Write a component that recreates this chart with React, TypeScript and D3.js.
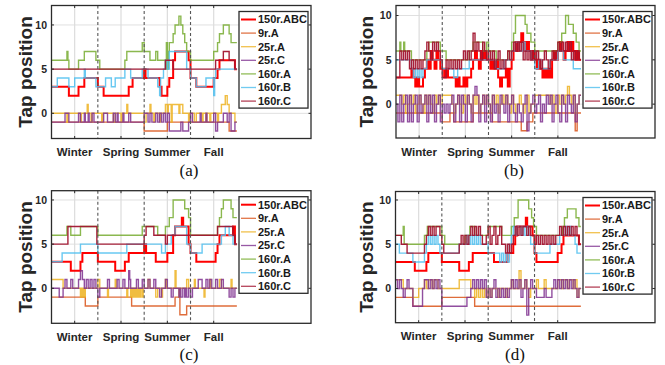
import React from 'react';
import * as d3 from 'd3';

// ---- shared labels ----
const seasons = ['Winter', 'Spring', 'Summer', 'Fall'];
const seasonTicks = [12, 36, 60, 84];      // hour at the centre of each season
const seasonBounds = [24, 48, 72];         // dashed separators
const yTicks = [0, 5, 10];
const seriesNames = ['150r.ABC', '9r.A', '25r.A', '25r.C', '160r.A', '160r.B', '160r.C'];
const seriesColors = ['#ff0000', '#D95319', '#EDB120', '#7E2F8E', '#77AC30', '#4DBEEE', '#A2142F'];
const seriesOpacity = [1, 0.85, 0.85, 0.85, 0.85, 0.85, 0.95];
const DATA_END = 96;
const X_MAX = 134.4;

// Each series is either [hour, tap] change points or one tap value per hour.
type Series = number[] | number[][];

// ---- panel (a) ----
const a150r = [[0,3],[9,2],[14,3],[17,4],[24,3],[27,2],[40,3],[42,4],[48,5],[48.7,4],[56,3],[57,2],[60,3],[61,4],[63,6],[64,7],[71,6],[72,4],[75,3],[84,4],[86,5],[87,6],[95,5]];
const a9rA = [[0,-1],[48,-2],[60,-1],[92,-2]];
const a25rA = [[0,0],[8,-1],[8.5,0],[15,-1],[15.5,0],[18.5,1],[19,0],[20.5,-1],[21,0],[26,-1],[26.5,0],[32,-1],[33,0],[36,-1],[36.5,0],[39,1],[39.5,0],[48,-1],[49,0],[51,1],[51.5,0],[53,-1],[53.5,0],[56,-1],[56.5,0],[59,1],[60,0],[60.5,1],[62,-1],[62.5,1],[66,0],[66.5,1],[68,0],[71,-1],[71.5,0],[74,-1],[75,0],[78,-1],[78.5,0],[80,-1],[80.5,0],[82,-1],[82.5,0],[86,-1],[86.5,0],[88,1],[90,2],[91,1],[92,0],[95,-1]];
const a25rC = [[0,-1],[7,0],[9,-1],[14,0],[15,-1],[17,0],[17.5,-1],[19,0],[19.5,-1],[21,0],[22,-1],[27,0],[29,-1],[32,0],[33,-1],[34,0],[34.5,-1],[37,0],[37.5,-1],[40,0],[41,-1],[48,0],[50,-1],[51,0],[52,-1],[54,0],[55,-1],[56,0],[57,-1],[58,0],[59,-1],[60,0],[61,-2],[67,-1],[68,-2],[71,-1],[72,0],[73,-1],[77,0],[77.5,-1],[80,0],[80.5,-1],[84,0],[85,-2],[86,-1],[89,0],[91,-1],[92,0],[93,-2],[95,-1]];
const a160rA = [[0,6],[8,7],[8.5,6],[9,5],[14,6],[17,7],[23,6],[25,5],[38,6],[39,7],[47,8],[48,7],[51,6],[54,7],[55,6],[59,5],[59.5,8],[60,5],[60.5,7],[61,8],[63,9],[64,10],[66,11],[67,10],[68,9],[69,8],[70,7],[72,6],[84,7],[86,8],[87,9],[89,10],[92,9],[93,8]];
const a160rB = [[0,3],[3,4],[9,3],[12,4],[17,5],[17.5,4],[23,3],[28,4],[31,3],[33,4],[38,5],[41,4],[47,5],[50,4],[55,3],[56,2],[56.5,4],[58,5],[59,6],[60,5],[61,7],[70,5],[72,4],[75,3],[80,4],[84,2],[84.5,4],[85,5]];
const a160rC = [[0,5],[59,6],[63,5],[85,6],[89,7],[92,6],[95,5]];

// ---- panel (b) ----
const b150r = [3,3,3,3,3,3,3,3, 4,3,2,3,2,2,3,4, 5,4,6,5,4,6,5,4, 4,3,4,3,3,3,3,2, 3,2,2,3,2,3,3,4, 5,6,5,4,6,5,6,5, 5,4,5,4,5,3,2,3, 3,4,2,4,5,6,7,6, 7,8,7,6,7,6,5,6, 5,4,5,4,3,4,3,4, 3,5,6,5,6,7,6,5, 6,7,6,7,6,5,6,5];
const b9rA = [[0,-1],[24,-2],[28,-1],[30,-2],[40,-1],[50,-2],[65,-3],[68,-2],[71,-1],[93,-3],[94,-1]];
const b25rA = [1,1,1,0,1,-1,0,1, 0,1,-1,0,1,0,-1,1, 0,1,0,-1,1,0,1,0, 1,1,1,1,1,0,-1,0, 1,0,-1,1,0,1,0,-1, 1,0,1,-1,0,1,0,1, 0,-1,1,0,1,-1,0,1, 0,1,0,-1,1,0,-1,0, 1,0,-1,0,1,-1,0,0, 1,1,1,1,1,1,1,1, 0,1,0,-1,1,0,1,0, 1,2,1,0,1,-1,0,1];
const b25rC = [0,-2,1,-2,0,1,-2,1, -2,0,1,-2,1,-1,0,1, -2,1,-1,1,-2,0,1,-2, 0,-1,0,-1,0,1,-2,0, 1,-2,1,0,-2,1,0,-2, 1,2,1,-2,0,1,-2,1, 0,-2,1,-1,0,-2,1,0, -1,1,-2,0,1,-1,-2,0, -1,-2,0,1,-3,-1,0,1, -1,0,1,-2,0,-1,1,0, 1,-2,0,1,-1,-2,1,0, -2,1,0,-1,1,-2,0,1];
const b160rA = [[0,6],[2,7],[2.5,6],[4,7],[4.5,6],[8,5],[16,6],[17,7],[23,6],[26,5],[38,6],[40,7],[45,6],[47,7],[48,6],[52,5],[58,6],[60,7],[61,8],[62,10],[67,9],[68,8],[70,7],[72,6],[84,7],[86,8],[88,10],[89.5,9],[92,8],[93.5,7],[95,6]];
const b160rB = [[0,5],[8,4],[9,3],[10,4],[11,3],[12,4],[13,3],[14,4],[16,5],[24,4],[30,3],[32,4],[38,5],[52,4],[56,5],[60,6],[62,7],[64,6],[66,7],[67,6],[70,5],[72,4],[74,5],[76,4],[80,5],[84,6],[87,5],[92,4]];
const b160rC = [3,3,6,5,6,5,6,4, 5,4,5,4,5,4,5,6, 7,6,5,7,6,7,6,5, 3,3,5,4,5,4,5,4, 5,4,5,6,5,6,5,6, 8,6,7,6,5,7,6,5, 6,5,6,4,5,6,4,5, 4,5,6,5,6,7,6,7, 6,7,5,6,5,6,5,6, 5,6,5,4,5,6,5,4, 5,6,5,6,7,6,7,6, 7,6,7,5,6,5,6,5];

// ---- panel (c) ----
const c150r = [[0,3],[10,2],[15,3],[16,4],[24,3],[33,2],[38,3],[40,4],[48,5],[49,4],[54,3],[60,4],[63,6],[64,7],[67.5,8],[68.2,7],[71,5],[72,4],[75,3],[85,4],[86,5],[87,6],[94,7],[95,5]];
const c9rA = [[0,-1],[17.5,-2],[24,-1],[41.5,-2],[64,-1],[66.5,-3],[70,-2]];
const c25rA = [[0,1],[6,0],[15,-1],[15.5,0],[16,-1],[16.5,0],[17,-1],[17.5,0],[24,1],[25,0],[29,-1],[29.5,0],[33,1],[33.5,0],[39,-1],[39.5,0],[41,-1],[41.4,0],[41.8,-1],[42.2,0],[42.6,-1],[43,0],[43.4,-1],[43.8,0],[44.2,-1],[44.6,0],[45,-1],[45.4,0],[45.8,-1],[46.2,0],[47,-1],[47.5,0],[50,1],[51,0],[54,-1],[55,0],[57,-1],[57.5,0],[59,1],[59.5,0],[64,2],[64.5,0],[66,-1],[66.5,0],[70,1],[71,0],[74,1],[74.5,0],[79,-1],[79.5,0],[82,1],[82.5,0],[87,1],[88,0],[93,1],[93.5,0]];
const c25rC = [[0,0],[4,-1],[6,0],[7,1],[8,0],[10,1],[11,0],[14,1],[15,2],[16,1],[17,0],[18,1],[19,0],[20,1],[21,0],[22,1],[23,0],[24,-1],[25,0],[29,1],[30,0],[34,1],[35,0],[37,1],[38,0],[40,2],[40.5,1],[41,0],[44,1],[45,0],[47,1],[48,0],[50,1],[51,0],[53,1],[54,0],[56,-1],[57,0],[59,1],[60,0],[62,-1],[63,0],[66,-1],[66.5,0],[67,-1],[68,0],[69,-1],[69.5,0],[70,-1],[71,0],[72,-1],[73,0],[76,1],[78,0],[80,1],[81,0],[82,1],[83,0],[85,1],[86,0],[88,1],[89,0],[92,-1],[93,0],[94,-1],[95,0]];
const c160rA = [[0,6],[8,7],[10,6],[15,7],[24,6],[47,7],[55,6],[59,7],[61,8],[63,10],[69,9],[71,8],[72,6],[86,7],[87,8],[88,9],[89,10],[93,9],[94,8]];
const c160rB = [[0,3],[5.5,4],[15,5],[24,4],[39,5],[57,4],[59,5],[62,6],[64,7],[70,5],[72,4],[78,5],[88,6],[90,7],[92,6],[94,5]];
const c160rC = [[0,5],[8.5,7],[23.5,5],[48,6],[49,7],[53,6],[59,5],[60,6],[72,6],[86,7],[94,6],[95,5]];

// ---- panel (d) ----
const d150r = [[0,3],[10,2],[16,3],[17,4],[24,3],[33,2],[38,3],[40,4],[51,3],[58,4],[61,5],[62,6],[63,7],[67.5,8],[68.2,7],[71,6],[72,4],[73,3],[84,4],[86,5],[87,6],[95,5]];
const d9rA = [[0,-1],[9,-2],[24,-1],[41,-2]];
const d25rA = [1,1,1,1,0,0,0,0, 0,-1,-1,-1,0,0,0,1, 0,1,1,0,1,1,0,0, 0,0,0,0,0,0,0,0, 0,1,1,1,1,1,1,0, 0,-1,0,-1,0,-1,0,-1, 0,-1,0,0,0,-1,0,0, 0,-1,0,0,1,0,0,0, 2,0,0,1,0,-1,0,0, 0,1,0,0,0,1,0,0, 0,0,0,0,1,1,0,1, 1,0,1,1,0,1,-1,0];
const d25rC = [1,0,1,0,-1,0,1,0, 0,-2,-2,-2,-2,-2,0,1, 1,0,1,0,1,0,1,0, -2,-2,-2,-2,-2,-2,-2,-2, -2,-2,-2,-2,-2,-1,-1,0, 1,0,1,0,1,0,1,-1, 0,-1,0,1,-1,0,-1,0, -1,0,-1,0,1,0,1,0, 1,-1,0,1,-3,0,1,0, 0,-1,-1,-1,-1,0,-1,-1, -1,0,1,0,1,0,1,0, 1,0,1,0,1,0,-1,0];
const d160rA = [[0,6],[4,7],[4.5,5],[15,6],[16.5,7],[24,6],[25.5,5],[36,6],[38.5,7],[41,6],[48,7],[55,6],[60,7],[61.5,8],[63.5,10],[69,9],[70.5,8],[71.5,7],[73,6],[86.5,7],[87.5,8],[89,9],[93.5,8],[95,7]];
const d160rB = [5,5,4,4,4,4,4,4, 4,3,3,3,3,3,3,4, 5,6,5,6,5,6,5,4, 4,4,4,4,4,4,4,4, 4,5,5,5,5,6,5,6, 5,6,5,6,5,5,5,5, 4,4,4,4,4,4,3,4, 3,4,3,5,6,7,6,7, 7,6,7,6,7,6,5,5, 4,4,4,4,4,4,4,4, 5,5,5,5,5,6,6,6, 7,6,7,6,6,5,4,4];
const d160rC = [6,6,6,5,5,5,4,4, 4,4,4,4,4,4,4,5, 6,7,6,7,6,7,7,6, 5,4,4,4,4,4,4,4, 4,5,6,5,6,5,6,7, 6,7,6,7,6,5,5,6, 7,5,6,7,5,6,7,5, 5,4,5,4,5,6,7,6, 7,6,7,7,6,7,6,6, 5,6,5,6,5,6,5,6, 5,6,5,6,6,7,6,7, 6,7,6,7,6,7,6,5];

interface PanelSpec {
  left: number; top: number; right: number; bottom: number;
  yDomain: [number, number];
  labelX: number;
  caption: string; captionX: number; captionY: number;
  series: Series[];
}

const panels: PanelSpec[] = [
  { left: 51.5, top: 5.5, right: 311, bottom: 138.5, yDomain: [-2.85, 12.2], labelX: 25,
    caption: '(a)', captionX: 189, captionY: 176,
    series: [a150r, a9rA, a25rA, a25rC, a160rA, a160rB, a160rC] },
  { left: 396, top: 5.5, right: 655, bottom: 138, yDomain: [-3.82, 11.13], labelX: 366,
    caption: '(b)', captionX: 514, captionY: 176,
    series: [b150r, b9rA, b25rA, b25rC, b160rA, b160rB, b160rC] },
  { left: 51.5, top: 190.7, right: 311, bottom: 323.3, yDomain: [-3.96, 11.05], labelX: 25,
    caption: '(c)', captionX: 189, captionY: 360,
    series: [c150r, c9rA, c25rA, c25rC, c160rA, c160rB, c160rC] },
  { left: 395.5, top: 191.5, right: 655, bottom: 322.7, yDomain: [-3.86, 10.96], labelX: 366,
    caption: '(d)', captionX: 515, captionY: 360,
    series: [d150r, d9rA, d25rA, d25rC, d160rA, d160rB, d160rC] },
];

const toPoints = (s: Series): [number, number][] => {
  const pts: [number, number][] = typeof s[0] === 'number'
    ? (s as number[]).map((v, i) => [i, v] as [number, number])
    : (s as number[][]).map(p => [p[0], p[1]] as [number, number]);
  pts.push([DATA_END, pts[pts.length - 1][1]]);
  return pts;
};

const FONT = '"Liberation Sans", Arial, sans-serif';

const Panel: React.FC<{ spec: PanelSpec; idx: number }> = ({ spec, idx }) => {
  const { left, top, right, bottom } = spec;
  const x = d3.scaleLinear().domain([0, X_MAX]).range([left, right]);
  const y = d3.scaleLinear().domain(spec.yDomain).range([bottom, top]);
  const line = d3.line<[number, number]>()
    .x(d => x(d[0]))
    .y(d => y(d[1]))
    .curve(d3.curveStepAfter);
  const clipId = `clip-${idx}`;

  // legend geometry (north-east, inside the axes)
  const legW = 69, legH = 96.6;
  const legX = right - 3 - legW, legY = top + 6;
  const rowH = 13.6;

  return (
    <g>
      <defs>
        <clipPath id={clipId}>
          <rect x={left} y={top} width={right - left} height={bottom - top} />
        </clipPath>
      </defs>
      <rect x={left} y={top} width={right - left} height={bottom - top} fill="#fff" />

      {/* grid */}
      {yTicks.map(t => (
        <line key={`gy${t}`} x1={left} x2={right} y1={y(t)} y2={y(t)} stroke="#e0e0e0" strokeWidth={1} />
      ))}
      {seasonTicks.map(t => (
        <line key={`gx${t}`} x1={x(t)} x2={x(t)} y1={top} y2={bottom} stroke="#dcdcdc" strokeWidth={1.2} />
      ))}

      {/* tap position traces */}
      <g clipPath={`url(#${clipId})`}>
        {spec.series.map((s, i) => (
          <path key={i} d={line(toPoints(s)) || ''} fill="none"
            stroke={seriesColors[i]}
            strokeWidth={i === 0 ? 2 : 1.4}
            strokeOpacity={seriesOpacity[i]} />
        ))}
      </g>

      {/* season separators */}
      {seasonBounds.map(t => (
        <line key={`sb${t}`} x1={x(t)} x2={x(t)} y1={top} y2={bottom}
          stroke="#555" strokeWidth={1.1} strokeDasharray="3,2.5" />
      ))}

      {/* axes box + inward ticks */}
      <rect x={left} y={top} width={right - left} height={bottom - top} fill="none" stroke="#2b2b2b" strokeWidth={1.3} />
      {seasonTicks.map(t => (
        <g key={`tx${t}`}>
          <line x1={x(t)} x2={x(t)} y1={bottom} y2={bottom - 2.5} stroke="#2b2b2b" />
          <line x1={x(t)} x2={x(t)} y1={top} y2={top + 2.5} stroke="#2b2b2b" />
        </g>
      ))}
      {yTicks.map(t => (
        <g key={`ty${t}`}>
          <line x1={left} x2={left + 2.5} y1={y(t)} y2={y(t)} stroke="#2b2b2b" />
          <line x1={right} x2={right - 2.5} y1={y(t)} y2={y(t)} stroke="#2b2b2b" />
        </g>
      ))}

      {/* tick labels */}
      {yTicks.map(t => (
        <text key={`ly${t}`} x={left - 4.5} y={y(t)} dy="0.35em" textAnchor="end"
          fontFamily={FONT} fontWeight="bold" fontSize={10.5} fill="#262626">{t}</text>
      ))}
      {seasons.map((s, i) => (
        <text key={`lx${s}`} x={x(seasonTicks[i])} y={bottom + 17.5} textAnchor="middle"
          fontFamily={FONT} fontWeight="bold" fontSize={11.5} fill="#262626">{s}</text>
      ))}
      <text transform={`translate(${spec.labelX},${(top + bottom) / 2}) rotate(-90)`}
        textAnchor="middle" dy="0.35em" fontFamily={FONT} fontWeight="bold" fontSize={19} fill="#262626">
        Tap position
      </text>

      {/* legend */}
      <rect x={legX} y={legY} width={legW} height={legH} fill="#fff" stroke="#2b2b2b" strokeWidth={1.3} />
      {seriesNames.map((n, i) => {
        const ly = legY + 8 + i * rowH;
        return (
          <g key={n}>
            <line x1={legX + 2} x2={legX + 17} y1={ly} y2={ly}
              stroke={seriesColors[i]} strokeWidth={i === 0 ? 2 : 1.3} strokeOpacity={i === 0 ? 1 : 0.8} />
            <text x={legX + 19} y={ly} dy="0.35em" fontFamily={FONT} fontWeight="bold"
              fontSize={11} fill="#1a1a1a">{n}</text>
          </g>
        );
      })}

      <text x={spec.captionX} y={spec.captionY} textAnchor="middle"
        fontFamily='"Liberation Serif", "Times New Roman", serif' fontSize={17} fill="#111">
        {spec.caption}
      </text>
    </g>
  );
};

export default function App() {
  return (
    <svg width={665} height={365} viewBox="0 0 665 365"
      style={{ position: 'absolute', left: 0, top: 0, background: '#fff' }}>
      {panels.map((p, i) => <Panel key={p.caption} spec={p} idx={i} />)}
    </svg>
  );
}
